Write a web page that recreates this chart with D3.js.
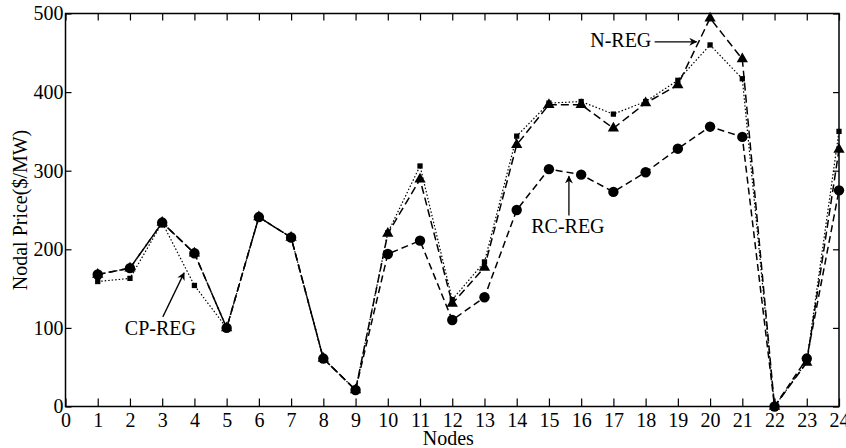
<!DOCTYPE html>
<html>
<head>
<meta charset="utf-8">
<script src="https://cdn.jsdelivr.net/npm/d3@7"></script>
<style>
  body { margin: 0; background: #fff; }
  svg { display: block; }
  text { font-family: "Liberation Serif", "Times New Roman", serif; fill: #000; }
</style>
</head>
<body>
<div id="content"></div>
<script>
// node numbers along the x axis
var nodes = [1, 2, 3, 4, 5, 6, 7, 8, 9, 10, 11, 12, 13, 14, 15, 16, 17, 18, 19, 20, 21, 22, 23, 24];

// nodal prices ($/MW)
var nReg  = [168, 176, 234, 195, 100, 241, 215, 61, 21, 220, 289, 131, 177, 333, 384, 384, 354, 386, 409, 494, 442, 0, 56, 327];
var cpReg = [159, 163, 234, 154, 100, 241, 215, 61, 21, 221, 306, 136, 184, 344, 386, 388, 372, 388, 415, 460, 417, 0, 57, 350];
var rcReg = [168, 176, 234, 195, 100, 241, 215, 61, 21, 194, 211, 110, 139, 250, 302, 295, 273, 298, 328, 356, 343, 0, 61, 275];

var xTicks = [0, 1, 2, 3, 4, 5, 6, 7, 8, 9, 10, 11, 12, 13, 14, 15, 16, 17, 18, 19, 20, 21, 22, 23, 24];
var yTicks = [0, 100, 200, 300, 400, 500];

var width = 846, height = 448;
var margin = {top: 13.5, right: 7, bottom: 41.5, left: 65.5};

var x = d3.scaleLinear().domain([0, 24]).range([margin.left, width - margin.right]);
var y = d3.scaleLinear().domain([0, 500]).range([height - margin.bottom, margin.top]);

var chart = d3.select("#content")
  .append("svg")
  .attr("width", width)
  .attr("height", height);

// axes, ticks pointing inward on all four sides
var fontSize = 20;

chart.append("g")
  .attr("transform", "translate(0," + y(0) + ")")
  .call(d3.axisBottom(x).tickValues(xTicks).tickSize(-8).tickPadding(6).tickSizeOuter(0))
  .call(function(g) { g.selectAll("text").attr("font-size", fontSize + "px").attr("font-family", null); });

chart.append("g")
  .attr("transform", "translate(0," + y(500) + ")")
  .call(d3.axisTop(x).tickValues(xTicks).tickSize(-7).tickFormat("").tickSizeOuter(0));

chart.append("g")
  .attr("transform", "translate(" + x(0) + ",0)")
  .call(d3.axisLeft(y).tickValues(yTicks).tickSize(-6).tickPadding(2).tickSizeOuter(0))
  .call(function(g) { g.selectAll("text").attr("font-size", fontSize + "px").attr("font-family", null); });

chart.append("g")
  .attr("transform", "translate(" + x(24) + ",0)")
  .call(d3.axisRight(y).tickValues(yTicks).tickSize(-6).tickFormat("").tickSizeOuter(0));

chart.selectAll(".domain").remove();
chart.selectAll(".tick line").attr("stroke", "#000").attr("stroke-width", 1.2);

// frame
chart.append("rect")
  .attr("x", x(0))
  .attr("y", y(500))
  .attr("width", x(24) - x(0))
  .attr("height", y(0) - y(500))
  .attr("fill", "none")
  .attr("stroke", "#000")
  .attr("stroke-width", 1.5);

// axis titles
chart.append("text")
  .attr("x", (x(0) + x(24)) / 2 - 4)
  .attr("y", 445)
  .attr("text-anchor", "middle")
  .attr("font-size", fontSize + "px")
  .text("Nodes");

chart.append("text")
  .attr("transform", "translate(27," + ((y(0) + y(500)) / 2) + ") rotate(-90)")
  .attr("text-anchor", "middle")
  .attr("font-size", fontSize + "px")
  .text("Nodal Price($/MW)");

// series
var series = [
  {name: "CP-REG", values: cpReg, dash: "1.5,2", width: 1.2, marker: "square"},
  {name: "RC-REG", values: rcReg, dash: "7,4", width: 1.5, marker: "circle"},
  {name: "N-REG",  values: nReg,  dash: "8,4", width: 1.5, marker: "triangle"}
];

var line = d3.line()
  .x(function(d) { return x(d.node); })
  .y(function(d) { return y(d.value); });

var symbols = {
  square:   d3.symbol().type(d3.symbolSquare).size(28),
  circle:   d3.symbol().type(d3.symbolCircle).size(85),
  triangle: d3.symbol().type(d3.symbolTriangle).size(55)
};

series.forEach(function(s) {
  var pts = nodes.map(function(n, i) { return {node: n, value: s.values[i]}; });

  chart.append("path")
    .datum(pts)
    .attr("d", line)
    .attr("fill", "none")
    .attr("stroke", "#000")
    .attr("stroke-width", s.width)
    .attr("stroke-dasharray", s.dash);

  chart.append("g")
    .selectAll("path")
    .data(pts)
    .enter()
    .append("path")
    .attr("transform", function(d) { return "translate(" + x(d.node) + "," + y(d.value) + ")"; })
    .attr("d", symbols[s.marker])
    .attr("fill", "#000");
});

// arrowhead
chart.append("defs").append("marker")
  .attr("id", "arrow")
  .attr("viewBox", "0 0 10 10")
  .attr("refX", 9)
  .attr("refY", 5)
  .attr("markerWidth", 11)
  .attr("markerHeight", 8)
  .attr("markerUnits", "userSpaceOnUse")
  .attr("orient", "auto")
  .append("path")
  .attr("d", "M0,0 L10,5 L0,10 L3,5 Z")
  .attr("fill", "#000");

// annotations, placed in data coordinates
var notes = [
  {label: "CP-REG", tx: 1.84, ty: 91,  x1: 3.02,  y1: 114, x2: 3.68,  y2: 170},
  {label: "RC-REG", tx: 14.45, ty: 221, x1: 15.62, y1: 243, x2: 15.62, y2: 293},
  {label: "N-REG",  tx: 16.28, ty: 457, x1: 18.28, y1: 464, x2: 19.58, y2: 464}
];

notes.forEach(function(n) {
  chart.append("text")
    .attr("x", x(n.tx))
    .attr("y", y(n.ty))
    .attr("font-size", fontSize + "px")
    .text(n.label);

  chart.append("line")
    .attr("x1", x(n.x1))
    .attr("y1", y(n.y1))
    .attr("x2", x(n.x2))
    .attr("y2", y(n.y2))
    .attr("stroke", "#000")
    .attr("stroke-width", 1.3)
    .attr("marker-end", "url(#arrow)");
});
</script>
</body>
</html>
